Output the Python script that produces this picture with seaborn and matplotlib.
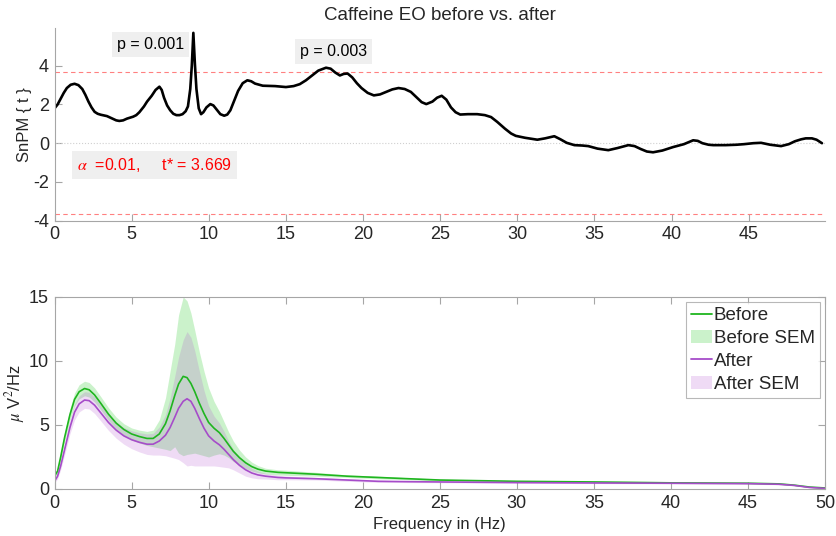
import numpy as np
import pandas as pd
import matplotlib
matplotlib.use("Agg")
import matplotlib.pyplot as plt
import seaborn as sns
from matplotlib.patches import Patch
from matplotlib.lines import Line2D

# SnPM t statistic (top panel)
freq_t = [0.0, 0.2, 0.4, 0.6, 0.8, 1.05, 1.3, 1.55, 1.8, 2.0, 2.2, 2.4, 2.6, 2.8, 3.0,
          3.4, 3.8, 4.0, 4.2, 4.45, 4.7, 5.1, 5.3, 5.5, 5.8, 6.0, 6.3, 6.55, 6.8, 6.95,
          7.1, 7.3, 7.5, 7.7, 7.9, 8.1, 8.3, 8.5, 8.65, 8.8, 8.9, 9.0, 9.1, 9.2, 9.35,
          9.5, 9.65, 9.85, 10.1, 10.3, 10.5, 10.75, 11.0, 11.2, 11.4, 11.65, 11.9, 12.2,
          12.5, 12.75, 13.0, 13.5, 14.3, 15.0, 15.5, 15.9, 16.3, 16.7, 17.1, 17.6, 17.9,
          18.2, 18.5, 18.75, 19.0, 19.3, 19.6, 19.9, 20.3, 20.7, 21.1, 21.5, 21.9, 22.3,
          22.7, 23.1, 23.5, 23.8, 24.1, 24.5, 24.8, 25.1, 25.4, 25.7, 26.0, 26.3, 26.8,
          27.4, 27.9, 28.3, 28.7, 29.2, 29.6, 29.9, 30.5, 31.3, 31.8, 32.4, 32.8, 33.2,
          33.7, 34.2, 34.6, 35.2, 35.9, 36.5, 37.2, 37.6, 38.0, 38.4, 38.8, 39.4, 40.1,
          40.8, 41.4, 41.7, 42.0, 42.4, 42.7, 43.5, 44.2, 44.7, 45.3, 45.8, 46.4, 47.1,
          47.6, 48.0, 48.4, 48.7, 49.1, 49.4, 49.75]
t_vals = [1.8, 2.0, 2.3, 2.6, 2.85, 3.02, 3.07, 3.0, 2.8, 2.5, 2.15, 1.85, 1.62, 1.52, 1.47,
          1.4, 1.25, 1.18, 1.15, 1.18, 1.27, 1.37, 1.45, 1.6, 1.9, 2.15, 2.45, 2.75, 2.92, 2.75,
          2.35, 1.95, 1.7, 1.52, 1.45, 1.45, 1.5, 1.65, 1.9, 2.8, 4.0, 5.7, 4.1, 2.8, 1.8,
          1.5, 1.6, 1.85, 2.02, 1.95, 1.75, 1.5, 1.42, 1.48, 1.7, 2.2, 2.7, 3.1,
          3.25, 3.2, 3.08, 2.97, 2.95, 2.9, 2.95, 3.05, 3.25, 3.5, 3.75, 3.9, 3.85,
          3.65, 3.5, 3.58, 3.6, 3.4, 3.1, 2.85, 2.6, 2.47, 2.52, 2.65, 2.78, 2.85,
          2.8, 2.65, 2.35, 2.12, 2.02, 2.15, 2.35, 2.45, 2.25, 1.85, 1.6, 1.48, 1.5,
          1.5, 1.45, 1.35, 1.1, 0.75, 0.5, 0.38, 0.28, 0.18, 0.25, 0.36, 0.2, 0.02,
          -0.1, -0.12, -0.15, -0.28, -0.36, -0.25, -0.1, -0.15, -0.3, -0.43, -0.47, -0.38, -0.2,
          -0.05, 0.15, 0.12, 0.0, -0.08, -0.1, -0.1, -0.08, -0.05, 0.0, 0.02, -0.08, -0.15,
          -0.05, 0.1, 0.2, 0.25, 0.25, 0.18, 0.0]
t_crit = 3.669

# power spectra (bottom panel)
freq_psd = [0, 0.2, 0.4, 0.65, 1.0, 1.3, 1.6, 1.95, 2.25, 2.6, 3.0, 3.5, 4.0, 4.5, 5.0,
            5.5, 6.0, 6.4, 6.8, 7.2, 7.5, 7.8, 8.05, 8.35, 8.6, 8.85, 9.1, 9.4, 9.7, 10.0,
            10.35, 10.7, 11.0, 11.3, 11.6, 12.0, 12.4, 12.8, 13.2, 13.7, 14.5, 15, 17, 19,
            21, 23, 25, 30, 35, 40, 45, 47, 48, 49, 50]
before = [1.0, 1.4, 2.5, 4.0, 5.8, 7.0, 7.6, 7.85, 7.75, 7.35, 6.7, 5.85, 5.15, 4.65, 4.3,
          4.1, 3.95, 3.95, 4.3, 5.1, 6.1, 7.3, 8.2, 8.8, 8.7, 8.25, 7.6, 6.7, 5.9, 5.2,
          4.75, 4.4, 3.95, 3.45, 2.95, 2.45, 2.05, 1.75, 1.55, 1.4, 1.3, 1.27, 1.15, 1.0,
          0.9, 0.8, 0.7, 0.6, 0.55, 0.48, 0.45, 0.4, 0.3, 0.15, 0.08]
before_sem = [0.15, 0.2, 0.28, 0.35, 0.45, 0.5, 0.55, 0.57, 0.57, 0.55, 0.52, 0.5, 0.47, 0.45, 0.47,
              0.5, 0.55, 0.65, 1.1, 2.0, 3.1, 4.0, 5.4, 6.2, 6.0, 5.5, 4.8, 4.0, 3.3, 2.7,
              2.1, 1.65, 1.3, 1.0, 0.8, 0.6, 0.45, 0.35, 0.28, 0.22, 0.2, 0.2, 0.15, 0.1,
              0.1, 0.08, 0.07, 0.05, 0.05, 0.05, 0.05, 0.05, 0.04, 0.03, 0.03]
after = [0.6, 1.0, 1.8, 3.05, 4.8, 6.0, 6.65, 6.95, 6.9, 6.55, 5.95, 5.2, 4.6, 4.15, 3.85,
         3.65, 3.5, 3.5, 3.75, 4.2, 4.8, 5.6, 6.3, 6.85, 7.05, 6.85, 6.3, 5.5, 4.75, 4.15,
         3.75, 3.45, 3.1, 2.7, 2.3, 1.85, 1.5, 1.25, 1.1, 1.0, 0.9, 0.87, 0.8, 0.7,
         0.6, 0.57, 0.55, 0.5, 0.47, 0.45, 0.42, 0.37, 0.28, 0.12, 0.05]
after_sem = [0.15, 0.2, 0.3, 0.4, 0.5, 0.6, 0.63, 0.65, 0.65, 0.65, 0.63, 0.62, 0.63, 0.65, 0.7,
             0.75, 0.8, 0.85, 1.1, 1.6, 2.3, 3.2, 4.0, 4.8, 5.25, 5.0, 4.5, 3.7, 2.95, 2.35,
             1.95, 1.7, 1.4, 1.05, 0.8, 0.6, 0.5, 0.38, 0.3, 0.22, 0.18, 0.15, 0.1, 0.1,
             0.08, 0.07, 0.06, 0.05, 0.05, 0.05, 0.05, 0.04, 0.03, 0.02, 0.02]

sns.set_style("white")
plt.rcParams['font.family'] = ['Liberation Sans', 'DejaVu Sans']
plt.rcParams['mathtext.fontset'] = 'stix'
plt.rcParams['axes.unicode_minus'] = False

green = '#1fb51f'
purple = '#a64cc9'
spine_c = '#a6a6a6'
text_c = '#262626'

fig = plt.figure(figsize=(8.36, 5.36), dpi=100)
ax1 = fig.add_axes([0.0652, 0.5884, 0.9217, 0.3593])
ax2 = fig.add_axes([0.0652, 0.0877, 0.9217, 0.3582])

# ---- top: SnPM {t}
df_t = pd.DataFrame({"Frequency": freq_t, "t": t_vals})
ax1.axhline(0, color='#d0d0d0', lw=0.8, ls=':')
ax1.axhline(t_crit, color='#ff8080', lw=0.8, ls='--', dashes=(4, 3))
ax1.axhline(-t_crit, color='#ff8080', lw=0.8, ls='--', dashes=(4, 3))
sns.lineplot(data=df_t, x="Frequency", y="t", color='black', lw=1.9, ax=ax1,
             solid_joinstyle='round', solid_capstyle='round')
ax1.set_xlim(0, 49.95)
ax1.set_ylim(-4, 5.95)
ax1.set_xticks(range(0, 50, 5))
ax1.set_yticks([-4, -2, 0, 2, 4])
ax1.set_xlabel("")
ax1.set_ylabel("SnPM { t }", fontsize=12, color=text_c, labelpad=1)
ax1.set_title("Caffeine EO before vs. after", fontsize=13.5, color=text_c, pad=6)
for s in ['top', 'right']:
    ax1.spines[s].set_visible(False)

box = dict(facecolor='#efefef', edgecolor='none', pad=3.5)
ax1.text(6.2, 5.1, "p = 0.001", fontsize=11.5, ha='center', va='center', color='black', bbox=box)
ax1.text(18.1, 4.75, "p = 0.003", fontsize=11.5, ha='center', va='center', color='black', bbox=box)
ax1.text(6.5, -1.14, r"$\alpha$  =0.01,     t* = 3.669", fontsize=11.5, ha='center', va='center',
         color='red', bbox=box)

# ---- bottom: spectra with SEM bands
df_p = pd.DataFrame({"Frequency": freq_psd, "Before": before, "After": after})
b = np.array(before); bs = np.array(before_sem)
a = np.array(after); as_ = np.array(after_sem)
ax2.fill_between(freq_psd, b - bs, b + bs, color='#33cc33', alpha=0.25, lw=0)
ax2.fill_between(freq_psd, a - as_, a + as_, color='#b04fd0', alpha=0.2, lw=0)
sns.lineplot(data=df_p, x="Frequency", y="Before", color=green, lw=1.2, ax=ax2,
             solid_joinstyle='round')
sns.lineplot(data=df_p, x="Frequency", y="After", color=purple, lw=1.2, ax=ax2,
             solid_joinstyle='round')
ax2.set_xlim(0, 50)
ax2.set_ylim(0, 15)
ax2.set_xticks(range(0, 51, 5))
ax2.set_yticks([0, 5, 10, 15])
ax2.set_xlabel("Frequency in (Hz)", fontsize=12, color=text_c, labelpad=4)
ax2.set_ylabel(r"$\mu$ V$^2$/Hz", fontsize=12, color=text_c, labelpad=1)

handles = [Line2D([], [], color=green, lw=1.3),
           Patch(facecolor='#33cc33', alpha=0.25, edgecolor='none'),
           Line2D([], [], color=purple, lw=1.3),
           Patch(facecolor='#b04fd0', alpha=0.2, edgecolor='none')]
leg = ax2.legend(handles, ["Before", "Before SEM", "After", "After SEM"], loc='upper right',
                 fontsize=13.5, frameon=True, fancybox=False, borderaxespad=0.25,
                 handlelength=1.1, handletextpad=0.1, borderpad=0.3, labelspacing=0.3)
leg.get_frame().set_edgecolor(spine_c)
leg.get_frame().set_linewidth(0.8)

for ax in (ax1, ax2):
    for s in ax.spines.values():
        s.set_color(spine_c)
        s.set_linewidth(0.8)
    ax.tick_params(direction='in', length=5, width=0.8, color=spine_c, labelsize=13,
                   labelcolor=text_c, pad=4)
ax2.tick_params(top=True, right=True, bottom=True, left=True)
ax1.tick_params(bottom=True, left=True)

fig.savefig("out.png", dpi=100)
